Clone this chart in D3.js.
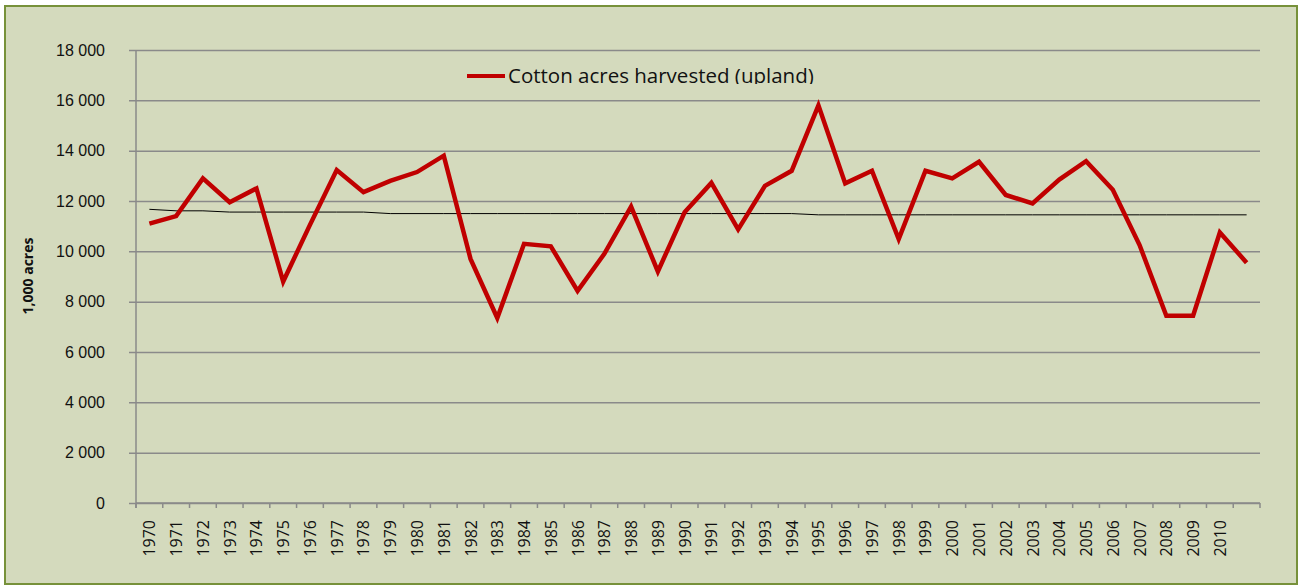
<!DOCTYPE html>
<html>
<head>
<meta charset="utf-8">
<script src="https://cdn.jsdelivr.net/npm/d3@7"></script>
<style>
  body { margin: 0; background: #fff; }
  svg { display: block; font-family: "Open Sans", sans-serif; }
</style>
</head>
<body>
<svg width="1301" height="586"></svg>
<script>
"use strict";

const years = [
  1970, 1971, 1972, 1973, 1974, 1975, 1976, 1977, 1978, 1979,
  1980, 1981, 1982, 1983, 1984, 1985, 1986, 1987, 1988, 1989,
  1990, 1991, 1992, 1993, 1994, 1995, 1996, 1997, 1998, 1999,
  2000, 2001, 2002, 2003, 2004, 2005, 2006, 2007, 2008, 2009,
  2010, 2011
];
// 2011 has no label on the axis
const xLabels = years.map(y => (y === 2011 ? "" : String(y)));

// Cotton acres harvested (upland), 1,000 acres
const harvested = [
  11100, 11400, 12900, 11950, 12500, 8800, 11050, 13230, 12350, 12800,
  13150, 13800, 9700, 7350, 10300, 10200, 8430, 9900, 11780, 9200,
  11550, 12720, 10870, 12600, 13200, 15800, 12700, 13200, 10490, 13200,
  12900, 13560, 12240, 11900, 12850, 13580, 12450, 10250, 7440, 7440,
  10750, 9550
];

// thin black reference line (nearly flat, slight steps)
const trend = [
  11670, 11610, 11610, 11560, 11560, 11560, 11560, 11560, 11560, 11500,
  11500, 11500, 11500, 11500, 11500, 11500, 11500, 11500, 11500, 11500,
  11500, 11500, 11500, 11500, 11500, 11450, 11450, 11450, 11450, 11450,
  11450, 11450, 11450, 11450, 11450, 11450, 11450, 11450, 11450, 11450,
  11450, 11450
];

const yTicks = [0, 2000, 4000, 6000, 8000, 10000, 12000, 14000, 16000, 18000];
const seriesName = "Cotton acres harvested (upland)";
const yAxisLabel = "1,000 acres";

const svg = d3.select("svg");
const width = +svg.attr("width");
const height = +svg.attr("height");

const margin = { top: 50, right: 41, bottom: 83, left: 136 };
const innerWidth = width - margin.left - margin.right;
const innerHeight = height - margin.top - margin.bottom;

const fmt = d3.formatLocale({ decimal: ".", thousands: " ", grouping: [3], currency: ["", ""] }).format(",d");

// chart background + border
svg.append("rect")
  .attr("x", 5).attr("y", 6)
  .attr("width", 1292).attr("height", 578)
  .attr("fill", "#d4dabd")
  .attr("stroke", "#77913a")
  .attr("stroke-width", 2);

const g = svg.append("g")
  .attr("transform", `translate(${margin.left},${margin.top})`);

const xScale = d3.scaleBand()
  .domain(years)
  .range([0, innerWidth]);

const yScale = d3.scaleLinear()
  .domain([0, 18000])
  .range([innerHeight, 0]);

// y axis with gridlines
const yAxis = d3.axisLeft(yScale)
  .tickValues(yTicks)
  .tickSize(-innerWidth)
  .tickSizeOuter(0)
  .tickPadding(31)
  .tickFormat(fmt);

const yAxisG = g.append("g").call(yAxis);
yAxisG.select(".domain").remove();
yAxisG.selectAll(".tick line")
  .attr("x1", -7)
  .attr("stroke", "#8a8a8a")
  .attr("stroke-width", 1.5);
yAxisG.selectAll(".tick text")
  .attr("fill", "#111")
  .style("font-size", "16px");

// vertical axis line
g.append("line")
  .attr("x1", 0).attr("x2", 0)
  .attr("y1", 0).attr("y2", innerHeight + 5)
  .attr("stroke", "#8a8a8a")
  .attr("stroke-width", 1.5);

// x axis: ticks at category boundaries
const bounds = years.map(y => xScale(y)).concat([innerWidth]);
const xAxisG = g.append("g").attr("transform", `translate(0,${innerHeight})`);
xAxisG.append("line")
  .attr("x1", 0).attr("x2", innerWidth)
  .attr("stroke", "#8a8a8a")
  .attr("stroke-width", 1.5);
xAxisG.selectAll("line.tk")
  .data(bounds)
  .enter()
  .append("line")
  .attr("class", "tk")
  .attr("x1", d => d).attr("x2", d => d)
  .attr("y1", 0).attr("y2", 5)
  .attr("stroke", "#8a8a8a")
  .attr("stroke-width", 1.5);

xAxisG.selectAll("text")
  .data(years)
  .enter()
  .append("text")
  .attr("transform", d => `translate(${xScale(d) + xScale.bandwidth() / 2 + 6},17) rotate(-90)`)
  .attr("text-anchor", "end")
  .attr("fill", "#111")
  .style("font-size", "16px")
  .text((d, i) => xLabels[i]);

// y axis title
svg.append("text")
  .attr("transform", `translate(33,276) rotate(-90)`)
  .attr("text-anchor", "middle")
  .attr("fill", "#111")
  .style("font-size", "14px")
  .style("font-weight", "bold")
  .text(yAxisLabel);

const cx = d => xScale(d) + xScale.bandwidth() / 2;

// thin reference line
g.append("path")
  .datum(years)
  .attr("fill", "none")
  .attr("stroke", "#000")
  .attr("stroke-width", 1)
  .attr("d", d3.line()
    .x(d => cx(d))
    .y((d, i) => yScale(trend[i])));

// main series
g.append("path")
  .datum(years)
  .attr("fill", "none")
  .attr("stroke", "#c00000")
  .attr("stroke-width", 4.5)
  .attr("stroke-linejoin", "miter")
  .attr("d", d3.line()
    .x(d => cx(d))
    .y((d, i) => yScale(harvested[i])));

// legend (its text is clipped at the bottom, as in the original)
svg.append("clipPath")
  .attr("id", "legclip")
  .append("rect")
  .attr("x", 450).attr("y", 55)
  .attr("width", 420).attr("height", 29);

const legend = svg.append("g").attr("clip-path", "url(#legclip)");
legend.append("line")
  .attr("x1", 467).attr("x2", 505)
  .attr("y1", 76).attr("y2", 76)
  .attr("stroke", "#c00000")
  .attr("stroke-width", 4);
legend.append("text")
  .attr("x", 508).attr("y", 83)
  .attr("fill", "#111")
  .style("font-size", "20.5px")
  .text(seriesName);
</script>
</body>
</html>
